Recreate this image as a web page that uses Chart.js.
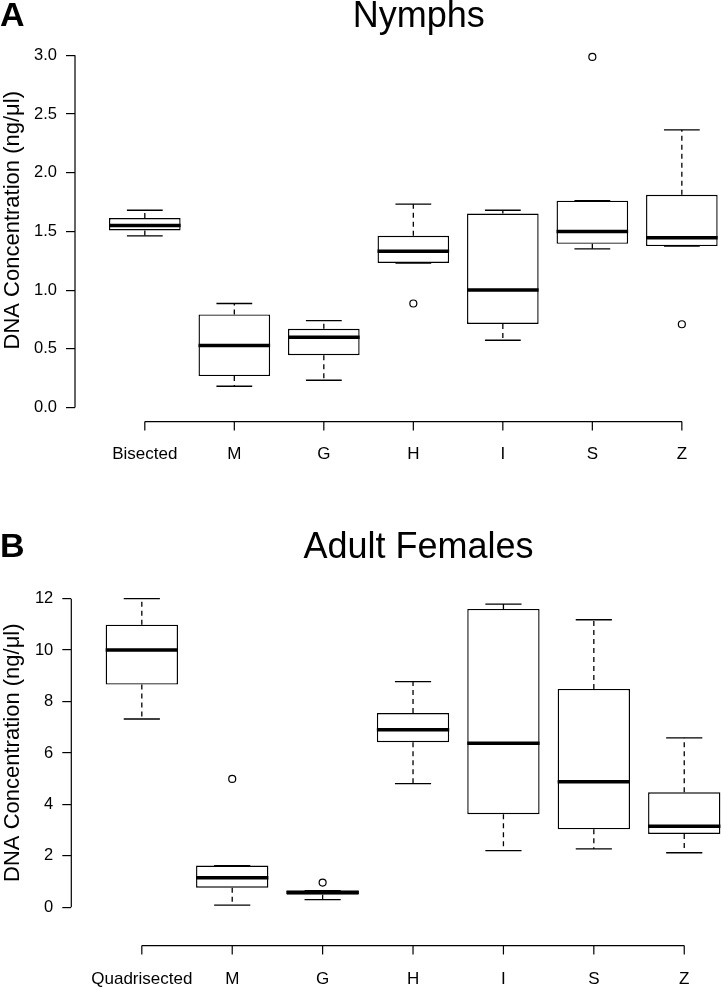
<!DOCTYPE html>
<html>
<head>
<meta charset="utf-8">
<title>DNA Concentration box plots</title>
<script src="https://cdn.jsdelivr.net/npm/chart.js@4.4.0/dist/chart.umd.min.js"></script>
<style>
    html, body { margin: 0; padding: 0; background: #fff; overflow: hidden; }
    #wrap { position: relative; width: 721px; height: 987px; overflow: hidden; }
    .panel { position: absolute; left: 0; }
</style>
</head>
<body>
<div id="wrap">
    <div class="panel" style="top:0"><canvas id="chartA" width="772" height="470"></canvas></div>
    <div class="panel" style="top:470px"><canvas id="chartB" width="772" height="517"></canvas></div>
</div>
<script>
// Panel A: nymphs
const nymphGroups = ['Bisected', 'M', 'G', 'H', 'I', 'S', 'Z'];
const nymphMin    = [1.462, 0.181, 0.232, 1.231, 0.573, 1.352, 1.375];
const nymphQ1     = [1.508, 0.268, 0.446, 1.231, 0.712, 1.394, 1.375];
const nymphMedian = [1.550, 0.528, 0.598, 1.330, 1.000, 1.499, 1.445];
const nymphQ3     = [1.614, 0.793, 0.670, 1.462, 1.652, 1.762, 1.812];
const nymphMax    = [1.680, 0.886, 0.740, 1.733, 1.680, 1.762, 2.365];
const nymphOutliers = [[], [], [], [0.886], [], [2.986], [0.709]];
const nymphTicks  = [0, 0.5, 1, 1.5, 2, 2.5, 3];

// Panel B: adult females
const femaleGroups = ['Quadrisected', 'M', 'G', 'H', 'I', 'S', 'Z'];
const femaleMin    = [7.32, 0.08, 0.30, 4.81, 2.20, 2.27, 2.12];
const femaleQ1     = [8.66, 0.76, 0.49, 6.42, 3.62, 3.03, 2.85];
const femaleMedian = [10.0, 1.15, 0.58, 6.90, 6.38, 4.88, 3.15];
const femaleQ3     = [10.99, 1.62, 0.645, 7.55, 11.60, 8.49, 4.47];
const femaleMax    = [12.0, 1.62, 0.645, 8.77, 11.79, 11.18, 6.59];
const femaleOutliers = [[], [4.99], [0.96], [], [], [], []];
const femaleTicks  = [0, 2, 4, 6, 8, 10, 12];

const FONT = "'Liberation Sans', Arial, Helvetica, sans-serif";

// whiskers, caps, medians and the R-style axis lines
const boxPlotPlugin = {
    id: 'boxPlot',
    beforeDatasetsDraw(chart, args, opts) {
        const { ctx } = chart;
        const x = chart.scales.x, y = chart.scales.y;
        ctx.save();
        ctx.strokeStyle = '#000';
        ctx.lineWidth = 1.3;
        opts.median.forEach((m, i) => {
            const cx = x.getPixelForValue(i + 1);
            const capL = x.getPixelForValue(i + 0.8);
            const capR = x.getPixelForValue(i + 1.2);
            ctx.setLineDash([5, 4]);
            ctx.beginPath();
            if (opts.max[i] > opts.q3[i]) {
                ctx.moveTo(cx, y.getPixelForValue(opts.q3[i]));
                ctx.lineTo(cx, y.getPixelForValue(opts.max[i]));
            }
            if (opts.min[i] < opts.q1[i]) {
                ctx.moveTo(cx, y.getPixelForValue(opts.q1[i]));
                ctx.lineTo(cx, y.getPixelForValue(opts.min[i]));
            }
            ctx.stroke();
            ctx.setLineDash([]);
            ctx.beginPath();
            [opts.min[i], opts.max[i]].forEach(v => {
                const py = y.getPixelForValue(v);
                ctx.moveTo(capL, py);
                ctx.lineTo(capR, py);
            });
            ctx.stroke();
        });
        ctx.restore();
    },
    afterDatasetsDraw(chart, args, opts) {
        const { ctx } = chart;
        const x = chart.scales.x, y = chart.scales.y;
        ctx.save();
        ctx.strokeStyle = '#000';
        ctx.lineWidth = 3.5;
        ctx.lineCap = 'butt';
        ctx.beginPath();
        opts.median.forEach((m, i) => {
            const py = y.getPixelForValue(m);
            ctx.moveTo(x.getPixelForValue(i + 0.6), py);
            ctx.lineTo(x.getPixelForValue(i + 1.4), py);
        });
        ctx.stroke();
        ctx.restore();
    },
    afterDraw(chart, args, opts) {
        const { ctx, chartArea } = chart;
        const x = chart.scales.x, y = chart.scales.y;
        const n = opts.median.length;
        ctx.save();
        ctx.strokeStyle = '#000';
        ctx.lineWidth = 1.2;
        ctx.beginPath();
        // y axis spans first to last tick
        ctx.moveTo(chartArea.left, y.getPixelForValue(opts.ticks[0]));
        ctx.lineTo(chartArea.left, y.getPixelForValue(opts.ticks[opts.ticks.length - 1]));
        // x axis spans first to last group
        const ay = chartArea.bottom + opts.xAxisOffset;
        ctx.moveTo(x.getPixelForValue(1), ay);
        ctx.lineTo(x.getPixelForValue(n), ay);
        for (let i = 1; i <= n; i++) {
            ctx.moveTo(x.getPixelForValue(i), ay);
            ctx.lineTo(x.getPixelForValue(i), ay + 9);
        }
        ctx.stroke();
        // panel letter and title
        ctx.fillStyle = '#000';
        ctx.textBaseline = 'alphabetic';
        ctx.textAlign = 'left';
        ctx.font = 'bold 34px ' + FONT;
        ctx.fillText(opts.letter, 0, opts.letterY);
        ctx.textAlign = 'center';
        ctx.font = '36px ' + FONT;
        ctx.fillText(opts.title, (chartArea.left + chartArea.right) / 2, opts.titleY);
        ctx.restore();
    }
};

function makeBoxChart(canvasId, cfg) {
    const boxes = cfg.groups.map((g, i) => ({ x: i + 1, y: [cfg.q1[i], cfg.q3[i]] }));
    const outliers = [];
    cfg.outliers.forEach((list, i) => list.forEach(v => outliers.push({ x: i + 1, y: v })));

    return new Chart(document.getElementById(canvasId), {
        type: 'bar',
        data: {
            datasets: [
                {
                    data: boxes,
                    backgroundColor: '#fff',
                    borderColor: '#000',
                    borderWidth: 1.4,
                    borderSkipped: false,
                    barPercentage: 0.8,
                    categoryPercentage: 1.0
                },
                {
                    type: 'scatter',
                    data: outliers,
                    pointStyle: 'circle',
                    pointRadius: 3.5,
                    pointBackgroundColor: '#fff',
                    pointBorderColor: '#000',
                    pointBorderWidth: 1.2
                }
            ]
        },
        options: {
            responsive: false,
            animation: false,
            devicePixelRatio: 1,
            layout: { padding: { top: cfg.padTop, right: cfg.padRight, left: 0, bottom: 0 } },
            plugins: {
                legend: { display: false },
                tooltip: { enabled: false },
                boxPlot: {
                    min: cfg.min, q1: cfg.q1, median: cfg.median, q3: cfg.q3, max: cfg.max,
                    ticks: cfg.ticks, xAxisOffset: cfg.xAxisOffset,
                    letter: cfg.letter, letterY: cfg.letterY,
                    title: cfg.title, titleY: cfg.titleY
                }
            },
            scales: {
                x: {
                    type: 'linear',
                    min: 0.22,
                    max: 7.9,
                    offset: false,
                    afterBuildTicks: s => { s.ticks = cfg.groups.map((g, i) => ({ value: i + 1 })); },
                    afterFit: s => { s.height = cfg.xHeight; },
                    grid: { display: false, drawTicks: false, offset: false },
                    border: { display: false },
                    ticks: {
                        color: '#000',
                        font: { family: FONT, size: 17 },
                        padding: cfg.xLabelPad,
                        autoSkip: false,
                        maxRotation: 0,
                        callback: v => cfg.groups[Math.round(v) - 1]
                    }
                },
                y: {
                    min: cfg.yMin,
                    max: cfg.yMax,
                    afterBuildTicks: s => { s.ticks = cfg.ticks.map(v => ({ value: v })); },
                    afterFit: s => { s.width = cfg.yWidth; },
                    grid: { display: true, drawOnChartArea: false, drawTicks: true, tickLength: 9, color: '#000', lineWidth: 1.2 },
                    border: { display: false },
                    ticks: {
                        color: '#000',
                        font: { family: FONT, size: 16.5 },
                        padding: 9,
                        callback: cfg.tickFormat
                    },
                    title: {
                        display: true,
                        text: 'DNA Concentration (ng/\u03bcl)',
                        color: '#000',
                        font: { family: FONT, size: 22 },
                        padding: { top: 0, bottom: 0 }
                    }
                }
            }
        },
        plugins: [boxPlotPlugin]
    });
}

makeBoxChart('chartA', {
    groups: nymphGroups, min: nymphMin, q1: nymphQ1, median: nymphMedian, q3: nymphQ3, max: nymphMax,
    outliers: nymphOutliers, ticks: nymphTicks,
    tickFormat: v => v.toFixed(1),
    yMin: -0.12, yMax: 3.31,
    padTop: 16.4, padRight: 9.6, yWidth: 75, xHeight: 48.4, xLabelPad: 23, xAxisOffset: 0,
    letter: 'A', letterY: 25.5, title: 'Nymphs', titleY: 26.5
});

makeBoxChart('chartB', {
    groups: femaleGroups, min: femaleMin, q1: femaleQ1, median: femaleMedian, q3: femaleQ3, max: femaleMax,
    outliers: femaleOutliers, ticks: femaleTicks,
    tickFormat: v => String(v),
    yMin: -0.48, yMax: 12.5,
    padTop: 115.8, padRight: 6.4, yWidth: 71.3, xHeight: 67.4, xLabelPad: 50, xAxisOffset: 26,
    letter: 'B', letterY: 87.3, title: 'Adult Females', titleY: 88
});
</script>
</body>
</html>
